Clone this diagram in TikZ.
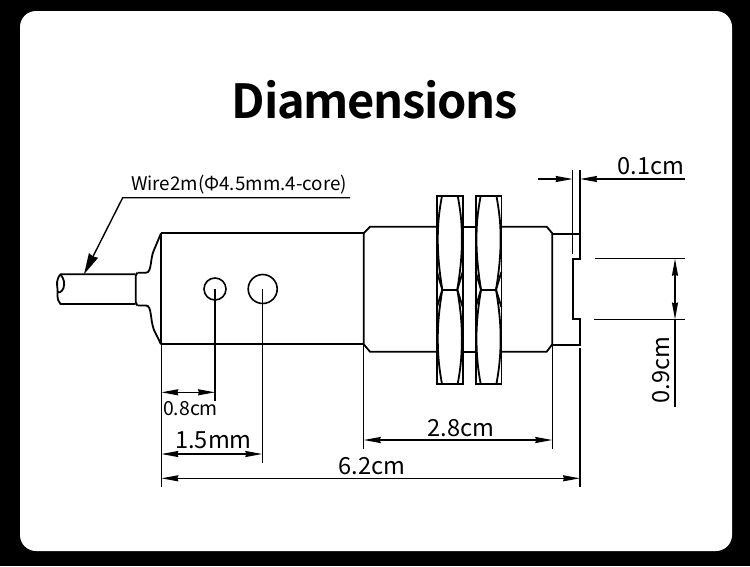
\documentclass[tikz,border=0pt]{standalone}
\usepackage{fontspec}
\setmainfont{Noto Sans CJK SC}[BoldFont={Noto Sans CJK SC Bold}]
\newfontfamily\headfont{Noto Sans CJK SC Bold}[LetterSpace=-2.7]
\usetikzlibrary{arrows.meta}
\tikzset{
  x=1pt,y=-1pt,
  part/.style={line width=1.8pt,black,line join=miter},
  dimline/.style={line width=1.4pt,black},
  dimarrow/.style={dimline,{Stealth[length=17pt,width=6pt,inset=1pt]}-{Stealth[length=17pt,width=6pt,inset=1pt]}},
  tipend/.style={dimline,-{Stealth[length=17pt,width=6pt,inset=1pt]}},
  label/.style={inner sep=0pt,font=\fontsize{23.6}{23.6}\selectfont,black},
}
\begin{document}
\begin{tikzpicture}
\useasboundingbox (0,0) rectangle (750,566);
\fill[black] (0,0) rectangle (750,566);
\fill[white,rounded corners=16pt] (20,11) rectangle (732,551);
\node[inner sep=0pt,font=\fontsize{47}{47}\headfont] (title) at (375,100) {Diamensions};
% wire
\draw[part] (135.7,274.3) -- (60.5,274.3) .. controls (56,280) and (57,284) .. (57.5,289) .. controls (58,294) and (56,299) .. (60.5,304) -- (135.7,304);
\draw[part] (60.5,274.3) .. controls (64,279) and (65,283) .. (63.5,288) .. controls (62,292) and (58,294) .. (57.8,291);
% neck
\draw[part] (137.5,272.7) -- (146,272.7) .. controls (152,272.7) and (150,258) .. (154,250) -- (161,233.3);
\draw[part] (137.5,305.5) -- (146,305.5) .. controls (152,305.5) and (150,320) .. (154,330) -- (161,344.3);
\draw[part,rounded corners=2pt] (137.5,272.7) -- (135.7,274) -- (135.7,304) -- (137.5,305.5);
% rear body
\draw[part] (161,233.3) -- (161,344.3);
\draw[part] (161,233.3) -- (363.7,233.3);
\draw[part] (161,344.3) -- (363.7,344.3);
% threaded body
\draw[part] (363.7,344.3) -- (363.7,233.3) -- (370,226.7) -- (437,226.7);
\draw[part] (462.7,226.7) -- (475.7,226.7);
\draw[part] (501.3,226.7) -- (546.7,226.7) -- (552.3,233.3) -- (552.3,344.3) -- (546.7,351.7) -- (501.3,351.7);
\draw[part] (475.7,351.7) -- (462.7,351.7);
\draw[part] (437,351.7) -- (370,351.7) -- (363.7,344.3);
% nuts
\foreach \nx in {437,475.7}{
  \begin{scope}[shift={(\nx,0)}]
    \draw[part] (0,195.7) rectangle (25.7,384);
    \draw[part] (5.3,289.7) -- (20.3,289.7);
    \draw[part] (5,195.7) .. controls (1.5,215) and (0.8,225) .. (0.8,240) .. controls (0.8,258) and (3,275) .. (5.3,289.7)
       .. controls (3,304) and (0.8,320) .. (0.8,338) .. controls (0.8,352) and (1.5,365) .. (5,384);
    \draw[part] (20.7,195.7) .. controls (24.2,215) and (24.9,225) .. (24.9,240) .. controls (24.9,258) and (22.7,275) .. (20.3,289.7)
       .. controls (22.7,304) and (24.9,320) .. (24.9,338) .. controls (24.9,352) and (24.2,365) .. (20.7,384);
    \draw[part] (0,272) -- (5.3,289.7) -- (0,307);
    \draw[part] (25.7,272) -- (20.3,289.7) -- (25.7,307);
  \end{scope}
}
% sensing end
\draw[part] (552.3,234) -- (580,234) -- (580,258.7) -- (572.7,258.7) -- (572.7,319.3) -- (580,319.3) -- (580,344.7) -- (552.3,344.7);
% circles
\node[draw,circle,line width=1.6pt,minimum size=22pt,inner sep=0pt] (holeA) at (215,289) {};
\node[draw,circle,line width=1.6pt,minimum size=29pt,inner sep=0pt] (holeB) at (262.7,289) {};
% leader
\coordinate (leadR) at (350,197.7);
\coordinate (leadK) at (122.7,197.7);
\coordinate (leadT) at (84,274.3);
\draw[dimline,-{Stealth[length=21pt,width=10pt,inset=1pt]}] (leadR) -- (leadK) -- (leadT);
\node[inner sep=0pt,font=\fontsize{18.8}{18.8}\selectfont] (wirelabel) at (239,185) {Wire2m(Φ4.5mm.4-core)};
% extension lines
\draw[dimline] (161.3,344.3) -- (161.3,487);
\draw[dimline] (215,289) -- (215,401);
\draw[dimline] (262.3,289) -- (262.3,462.7);
\draw[dimline] (363.7,344.3) -- (363.7,449);
\draw[dimline] (552.3,344.3) -- (552.3,449);
\draw[dimline] (580,348) -- (580,487);
\draw[dimline] (572.7,170) -- (572.7,254);
\draw[dimline] (580,170) -- (580,234);
\draw[dimline] (595,258.7) -- (684.5,258.7);
\draw[dimline] (593.5,319.5) -- (684.5,319.5);
% dimensions
\coordinate (a1) at (161.3,392.3); \coordinate (a2) at (215,392.3);
\draw[dimarrow] (a1) -- (a2);
\coordinate (b1) at (161.3,454); \coordinate (b2) at (262.3,454);
\draw[dimarrow] (b1) -- (b2);
\coordinate (c1) at (363.7,440); \coordinate (c2) at (552.3,440);
\draw[dimarrow] (c1) -- (c2);
\coordinate (d1) at (161.3,478.3); \coordinate (d2) at (580,478.3);
\draw[dimarrow] (d1) -- (d2);
\coordinate (e1) at (538.3,179); \coordinate (e2) at (572.7,179);
\draw[tipend] (e1) -- (e2);
\coordinate (f1) at (685,179); \coordinate (f2) at (580,179);
\draw[tipend] (f1) -- (f2);
\coordinate (g1) at (675,258.7); \coordinate (g2) at (675,319.5); \coordinate (g3) at (675,406.7);
\draw[dimarrow] (g1) -- (g2);
\draw[dimline] (g2) -- (g3);
% labels
\node[label,font=\fontsize{19.4}{19.4}\selectfont] (t08) at (190.5,409) {0.8cm};
\node[label] (t15) at (213.5,440) {1.5mm};
\node[label] (t28) at (460.7,428) {2.8cm};
\node[label] (t62) at (372.2,466) {6.2cm};
\node[label] (t01) at (651,166) {0.1cm};
\node[label,rotate=90] (t09) at (661,370) {0.9cm};
\end{tikzpicture}
\end{document}
